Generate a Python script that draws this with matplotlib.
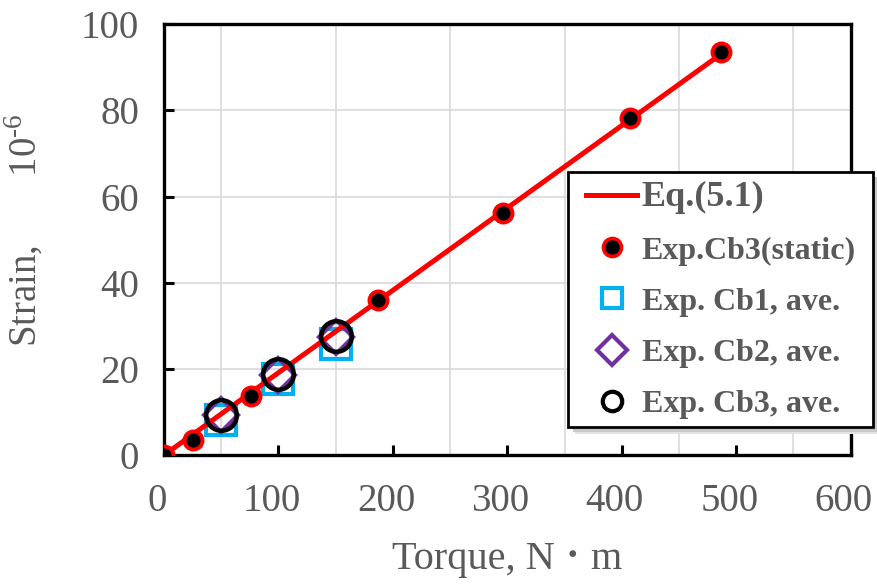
import matplotlib
matplotlib.use("Agg")
import matplotlib.pyplot as plt
from matplotlib.lines import Line2D
from matplotlib.patches import Rectangle
from matplotlib.ticker import MultipleLocator
from matplotlib.transforms import ScaledTranslation

plt.rcParams['font.family'] = ['Liberation Serif', 'Noto Sans CJK JP', 'DejaVu Sans']
plt.rcParams['mathtext.fontset'] = 'custom'
plt.rcParams['mathtext.rm'] = 'Liberation Serif'

# Eq.(5.1) prediction
eq_torque = [0, 488]
eq_strain = [0, 93.3]

# Static test, specimen Cb3
static_torque = [0, 25, 76, 187, 296, 407, 487]
static_strain = [0, 3.5, 13.8, 36.0, 56.2, 78.3, 93.6]

# Averaged dynamic tests
ave_torque = [50, 100, 150]
cb1_strain = [8.2, 17.6, 25.8]
cb2_strain = [9.2, 18.6, 27.3]
cb3_strain = [9.4, 18.9, 27.7]

text_grey = '#595959'
red = '#FF0000'
cyan = '#00B0F0'
purple = '#7030A0'

fig = plt.figure(figsize=(8.77, 5.88), dpi=100)
ax = fig.add_axes([0.187, 0.226, 0.783, 0.733])

ax.plot(eq_torque, eq_strain, color=red, lw=3.6, zorder=3, solid_capstyle='round')
ax.plot(static_torque, static_strain, ls='none', marker='o', ms=13,
        mfc='black', mec=red, mew=2.8, zorder=4)
ax.plot(ave_torque, cb1_strain, ls='none', marker='s', ms=22,
        mfc='none', mec=cyan, mew=3, zorder=2)
ax.plot(ave_torque, cb2_strain, ls='none', marker='D', ms=17,
        mfc='none', mec=purple, mew=3, zorder=2.5)
ax.plot(ave_torque, cb3_strain, ls='none', marker='o', ms=22,
        mfc='none', mec='black', mew=3.2, zorder=5)

ax.set_xlim(0, 600)
ax.set_ylim(0, 100)
ax.xaxis.set_major_locator(MultipleLocator(100))
ax.xaxis.set_minor_locator(MultipleLocator(50))
ax.yaxis.set_major_locator(MultipleLocator(20))
ax.grid(which='minor', axis='x', color='#D9D9D9', lw=1.2)
ax.grid(which='major', axis='y', color='#D9D9D9', lw=1.2)
ax.set_axisbelow(True)

for s in ax.spines.values():
    s.set_color('black')
    s.set_linewidth(2.4)

ax.tick_params(which='major', direction='in', length=7, width=2.2,
               labelsize=28, labelcolor=text_grey, color='black')
ax.tick_params(which='minor', length=0)
ax.tick_params(axis='x', pad=20)
ax.tick_params(axis='y', pad=18)

# x tick labels sit slightly left of their ticks
shift = ScaledTranslation(-7 / 100, 0, fig.dpi_scale_trans)
for lbl in ax.get_xticklabels():
    lbl.set_transform(lbl.get_transform() + shift)

ax.set_xlabel('Torque, N\u2009\uff65\u2009m', fontsize=29, color=text_grey,
              labelpad=15)
ax.set_ylabel('Strain,       10$^{\\text{-6}}$', fontsize=28, color=text_grey)
ax.yaxis.set_label_coords(-0.172, 0.522)

# Legend box with a drop shadow, drawn behind a frameless legend
box_x, box_y, box_w, box_h = 0.588, 0.065, 0.444, 0.592
for k, (off, col) in enumerate([(0.010, '#E4E4E4'), (0.007, '#C8C8C8')]):
    ax.add_patch(Rectangle((box_x + off, box_y - off * 687 / 431), box_w, box_h,
                           transform=ax.transAxes, facecolor=col, edgecolor='none',
                           clip_on=False, zorder=8 + 0.1 * k))
ax.add_patch(Rectangle((box_x, box_y), box_w, box_h, transform=ax.transAxes,
                       facecolor='white', edgecolor='black', lw=2,
                       clip_on=False, zorder=8.5))

handles = [
    Line2D([], [], color=red, lw=3.6),
    Line2D([], [], ls='none', marker='o', ms=13, mfc='black', mec=red, mew=2.6),
    Line2D([], [], ls='none', marker='s', ms=14, mfc='none', mec=cyan, mew=3),
    Line2D([], [], ls='none', marker='D', ms=15, mfc='none', mec=purple, mew=3),
    Line2D([], [], ls='none', marker='o', ms=14, mfc='none', mec='black', mew=3),
]
labels = ['Eq.(5.1)', 'Exp.Cb3(static)', 'Exp. Cb1, ave.', 'Exp. Cb2, ave.',
          'Exp. Cb3, ave.']
leg = ax.legend(handles, labels, loc='upper left', bbox_to_anchor=(0.615, 0.635),
                borderaxespad=0, borderpad=0, frameon=False,
                handlelength=1.6, handletextpad=0.13, labelspacing=0.68,
                prop={'weight': 'bold', 'size': 23})
leg.set_zorder(10)
for t in leg.get_texts():
    t.set_color(text_grey)
leg.get_texts()[0].set_fontsize(26)

fig.savefig('out.png', dpi=100)
